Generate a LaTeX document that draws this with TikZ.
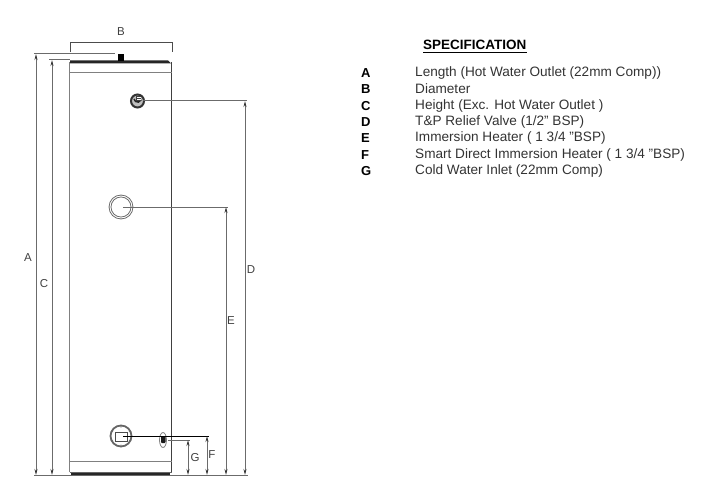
\documentclass[tikz,border=0pt]{standalone}
\usepackage{fontspec}
\setmainfont{Liberation Sans}
\usetikzlibrary{arrows.meta,shapes.geometric}
\definecolor{dimgray}{gray}{0.42}
\tikzset{
 x=1pt,y=-1pt,
 dimline/.style={draw=dimgray,line width=1pt},
 tankline/.style={draw=black!75,line width=1pt},
 arrowline/.style={dimline,{Stealth[length=6pt,width=3pt,black!80]}-{Stealth[length=6pt,width=3pt,black!80]}},
 dimlabel/.style={font=\fontsize{11.5pt}{12pt}\selectfont,text=black!75,inner sep=0pt},
 keylabel/.style={font=\fontsize{13pt}{14pt}\selectfont\bfseries,anchor=west,inner sep=0pt},
 spectext/.style={font=\fontsize{13.6pt}{14pt}\selectfont,text=black!80,anchor=west,inner sep=0pt},
}
\begin{document}
\begin{tikzpicture}
\useasboundingbox (0,0) rectangle (717,500);
% tank
\draw[tankline,draw=black!50] (69.5,62) -- (69.5,472);
\draw[tankline] (171.5,62) -- (171.5,472);
\draw[tankline,draw=black!50,line width=0.7pt] (69.5,72.5) -- (171.5,72.5);
\draw[tankline,draw=black!50,line width=0.7pt] (69.5,461.5) -- (171.5,461.5);
\draw[tankline,draw=black!60,line width=0.8pt] (69.5,472.5) -- (171.5,472.5);
\fill[black!85] (70,60.5) -- (168,60.5) -- (171,63.5) -- (70,63.5) -- cycle;
\fill[black!85] (71,473) rectangle (170,475);
\fill[black] (117.5,54) rectangle (124,61);
% dimension ground line and nodes
\coordinate (gndL) at (34,475.5);
\coordinate (gndR) at (248,475.5);
\draw[dimline] (gndL) -- (gndR);
\coordinate (Atop) at (36,54);
\coordinate (Abot) at (36,475);
\coordinate (Ctop) at (52,60);
\coordinate (Cbot) at (52,475);
\draw[arrowline] (Atop) -- (Abot);
\draw[arrowline] (Ctop) -- (Cbot);
\draw[dimline] (34,53.5) -- (115,53.5);
\draw[dimline] (49,59.5) -- (70,59.5);
% B bracket
\coordinate (Bl) at (70,52);
\coordinate (Br) at (172,52);
\draw[draw=black!70,line width=0.8pt] (Bl) -- (70,42.5) -- (172,42.5) -- (Br);
% fittings
\node[circle,draw=black!80,line width=2pt,fill=black!25,minimum size=13pt,inner sep=0pt] (tp) at (137.5,101) {};
\draw[black!85,line width=1.5pt] (134,99) arc[start angle=190,end angle=340,radius=3.8pt];
\fill[black!75] (135.5,96) rectangle (141,101);
\draw[white,line width=0.6pt] (137,97.5) -- (141,97.5) (137,99.5) -- (141,99.5);
\node[circle,draw=black!60,double=white,double distance=0.9pt,line width=0.9pt,fill=white,minimum size=22pt,inner sep=0pt] (imm) at (121,207) {};
\node[circle,draw=black!60,line width=1.8pt,fill=white,minimum size=21pt,inner sep=0pt] (smart) at (121,436) {};
\draw[black!70,line width=0.7pt,fill=white] (115,432) rectangle (127.5,441);
\draw[black!60,line width=0.6pt] (121,425) -- (121,427.5) (121,444.5) -- (121,447) (111,431) -- (113,432) (111,441) -- (113,440) (131,431) -- (129,432) (131,441) -- (129,440);
\node[ellipse,draw=black!50,line width=0.8pt,fill=white,minimum width=7pt,minimum height=15pt,inner sep=0pt] (cold) at (163,440) {};
\fill[black!90,rounded corners=1pt] (161,436) rectangle (165.5,443);
% leaders and dims
\coordinate (Dtop) at (245,101);
\coordinate (Dbot) at (245,475);
\coordinate (Etop) at (226,207);
\coordinate (Ebot) at (226,475);
\coordinate (Ftop) at (207,436);
\coordinate (Fbot) at (207,475);
\coordinate (Gtop) at (188,440);
\coordinate (Gbot) at (188,475);
\draw[dimline] (tp.center) ++(5,0) -- (247,101);
\draw[dimline] (imm.center) ++(2,0) -- (228,207);
\draw[draw=black,line width=0.9pt] (smart.center) ++(2,0) -- (209,436);
\draw[dimline] (168,440) -- (190,440);
\draw[arrowline] (Dtop) -- (Dbot);
\draw[arrowline] (Etop) -- (Ebot);
\draw[arrowline] (Ftop) -- (Fbot);
\draw[arrowline] (Gtop) -- (Gbot);
% labels
\node[dimlabel] (lB) at (121,31.5) {B};
\node[dimlabel] (lA) at (28,258) {A};
\node[dimlabel] (lC) at (44,284) {C};
\node[dimlabel] (lD) at (251,270) {D};
\node[dimlabel] (lE) at (231,321) {E};
\node[dimlabel] (lF) at (212,454.5) {F};
\node[dimlabel] (lG) at (195,458) {G};
% specification
\node[font=\fontsize{13.5pt}{14pt}\selectfont\bfseries,inner sep=0pt,anchor=base west] (title) at (423,50) {SPECIFICATION};
\draw[black,line width=1pt] (423,52.5) -- (527,52.5);
\node[keylabel] (kA) at (361,73) {A}; \node[spectext] (tA) at (415,73) {Length (Hot Water Outlet (22mm Comp))};
\node[keylabel] (kB) at (361,89) {B}; \node[spectext] (tB) at (415,89) {Diameter};
\node[keylabel] (kC) at (361,106) {C}; \node[spectext] (tC) at (415,106) {Height (Exc. Hot Water Outlet )};
\node[keylabel] (kD) at (361,122) {D}; \node[spectext] (tD) at (415,122) {T\&P Relief Valve (1/2" BSP)};
\node[keylabel] (kE) at (361,138) {E}; \node[spectext] (tE) at (415,138) {Immersion Heater ( 1 3/4 "BSP)};
\node[keylabel] (kF) at (361,155) {F}; \node[spectext] (tF) at (415,155) {Smart Direct Immersion Heater ( 1 3/4 "BSP)};
\node[keylabel] (kG) at (361,171) {G}; \node[spectext] (tG) at (415,171) {Cold Water Inlet (22mm Comp)};
\end{tikzpicture}
\end{document}
